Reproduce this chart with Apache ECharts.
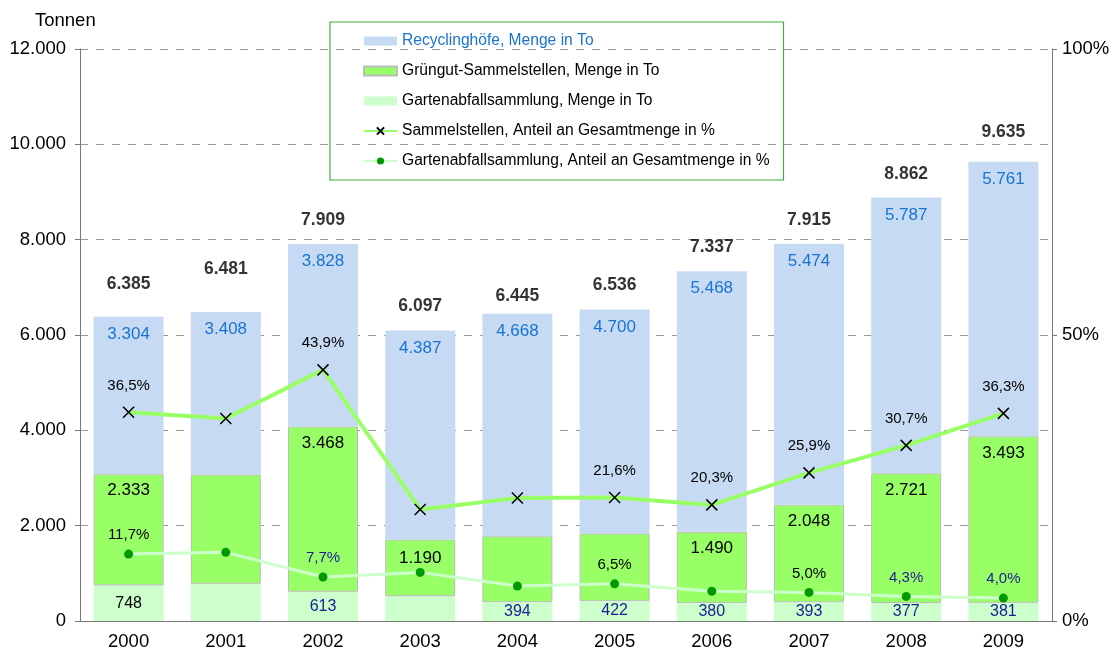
<!DOCTYPE html>
<html>
<head>
<meta charset="utf-8">
<script src="https://cdn.jsdelivr.net/npm/echarts@6/dist/echarts.min.js"></script>
<style>
html, body { margin: 0; padding: 0; background: #fff; }
#main { width: 1116px; height: 655px; }
</style>
</head>
<body>
<div id="main"></div>
<script>
// Jahre
var years = ['2000', '2001', '2002', '2003', '2004', '2005', '2006', '2007', '2008', '2009'];
// Mengen in Tonnen
var recycling = [3304, 3408, 3828, 4387, 4668, 4700, 5468, 5474, 5787, 5761];
var gruengut = [2333, 2293, 3468, 1190, 1383, 1414, 1490, 2048, 2721, 3493];
var garten = [748, 780, 613, 520, 394, 422, 380, 393, 377, 381];
var totals = [6385, 6481, 7909, 6097, 6445, 6536, 7337, 7915, 8862, 9635];
// Anteile in %
var sammelPct = [36.5, 35.4, 43.9, 19.5, 21.5, 21.6, 20.3, 25.9, 30.7, 36.3];
var gartenPct = [11.7, 12.0, 7.7, 8.5, 6.1, 6.5, 5.2, 5.0, 4.3, 4.0];
// Achsen
var leftTicks = [0, 2000, 4000, 6000, 8000, 10000, 12000];
var rightTicks = [0, 50, 100];

var FONT = 'Liberation Sans, Arial, sans-serif';
var names = [
    'Recyclinghöfe, Menge in To',
    'Grüngut-Sammelstellen, Menge in To',
    'Gartenabfallsammlung, Menge in To',
    'Sammelstellen, Anteil an Gesamtmenge in %',
    'Gartenabfallsammlung, Anteil an Gesamtmenge in %'
];

// Verschiebung einzelner Beschriftungen (Pixel, wie im Original)
var totalShift = { 0: -8, 1: -19, 4: 6, 9: -6 };
var gruenShift = { 3: 2 };

function tsd(v) {
    return String(v).replace(/\B(?=(\d{3})+(?!\d))/g, '.');
}
function pct(v) {
    return v.toFixed(1).replace('.', ',') + '%';
}
// Beschriftungen pro Punkt (versteckt / Farbe / Versatz)
function items(vals, hidden, blue, base, shift) {
    shift = shift || {};
    return vals.map(function (v, i) {
        return {
            value: v,
            label: {
                show: hidden.indexOf(i) < 0,
                color: blue.indexOf(i) >= 0 ? '#1c1c96' : base,
                offset: [0, shift[i] || 0]
            }
        };
    });
}

var myChart = echarts.init(document.getElementById('main'));

var option = {
    animation: false,
    textStyle: { fontFamily: FONT },
    grid: { left: 80, right: 64, top: 49, bottom: 34 },
    graphic: [{
        type: 'text', left: 35, top: 11,
        style: { text: 'Tonnen', font: '18.5px ' + FONT, fill: '#000' }
    }],
    legend: {
        orient: 'vertical',
        left: 330, top: 22,
        padding: [11, 14, 11, 33],
        itemGap: 14,
        itemWidth: 33, itemHeight: 9,
        borderColor: '#3cb03c', borderWidth: 1.2,
        textStyle: { fontSize: 15.6, color: '#000', lineHeight: 16, fontFamily: FONT },
        data: [
            { name: names[0], icon: 'rect', textStyle: { color: '#1a73d0' } },
            { name: names[1], icon: 'rect' },
            { name: names[2], icon: 'rect' },
            { name: names[3] },
            { name: names[4] }
        ]
    },
    xAxis: {
        type: 'category',
        data: years,
        axisLine: { lineStyle: { color: '#777' } },
        axisTick: { length: 5, lineStyle: { color: '#777' } },
        axisLabel: { fontSize: 18.5, color: '#000', margin: 11 }
    },
    yAxis: [{
        type: 'value',
        min: leftTicks[0], max: leftTicks[leftTicks.length - 1], interval: leftTicks[1] - leftTicks[0],
        axisLine: { show: true, lineStyle: { color: '#777' } },
        axisTick: { show: true, length: 5, lineStyle: { color: '#777' } },
        axisLabel: { fontSize: 18.5, color: '#000', margin: 14, formatter: function (v) { return tsd(v); } },
        splitLine: { lineStyle: { color: '#999', type: [8, 8] } }
    }, {
        type: 'value',
        min: rightTicks[0], max: rightTicks[rightTicks.length - 1], interval: rightTicks[1] - rightTicks[0],
        axisLine: { show: true, lineStyle: { color: '#777' } },
        axisTick: { show: true, length: 5, lineStyle: { color: '#777' } },
        axisLabel: { fontSize: 18.5, color: '#000', margin: 10, formatter: '{value}%' },
        splitLine: { show: false }
    }],
    series: [{
        name: names[2],
        type: 'bar', stack: 'menge', barWidth: 70,
        itemStyle: { color: '#ccffcc' },
        label: { position: 'inside', fontSize: 16, formatter: function (p) { return tsd(p.value); } },
        data: items(garten, [1, 3], [2, 4, 5, 6, 7, 8, 9], '#000')
    }, {
        name: names[1],
        type: 'bar', stack: 'menge', barWidth: 70,
        itemStyle: { color: '#99ff66', borderColor: '#bcbcbc', borderWidth: 1 },
        label: { position: 'insideTop', distance: 8, fontSize: 17, formatter: function (p) { return tsd(p.value); } },
        data: items(gruengut, [1, 4, 5], [], '#000', gruenShift)
    }, {
        name: names[0],
        type: 'bar', stack: 'menge', barWidth: 70,
        itemStyle: { color: '#c6dbf3' },
        label: { show: true, position: 'insideTop', distance: 9, fontSize: 17, color: '#1a73d0', formatter: function (p) { return tsd(p.value); } },
        data: recycling
    }, {
        name: 'Gesamt',
        type: 'scatter',
        symbolSize: 0,
        itemStyle: { color: 'transparent' },
        label: { show: true, position: 'top', distance: 15, fontSize: 17.5, fontWeight: 'bold', formatter: function (p) { return tsd(p.value); } },
        data: items(totals, [], [], '#000', totalShift),
        z: 5
    }, {
        name: names[3],
        type: 'line', yAxisIndex: 1,
        symbol: 'path://M0,0L10,10M10,0L0,10', symbolSize: 11,
        lineStyle: { color: '#99ff66', width: 4 },
        itemStyle: { color: '#99ff66', borderColor: '#000', borderWidth: 1.5 },
        label: { position: 'top', distance: 13, fontSize: 15, formatter: function (p) { return pct(p.value); } },
        data: items(sammelPct, [1, 3, 4], [], '#000'),
        z: 6
    }, {
        name: names[4],
        type: 'line', yAxisIndex: 1,
        symbol: 'circle', symbolSize: 9,
        lineStyle: { color: '#ccffcc', width: 3 },
        itemStyle: { color: '#009900' },
        label: { position: 'top', distance: 7, fontSize: 15, formatter: function (p) { return pct(p.value); } },
        data: items(gartenPct, [1, 3, 4, 6], [2, 8, 9], '#000'),
        z: 6
    }]
};

myChart.setOption(option);
</script>
</body>
</html>
